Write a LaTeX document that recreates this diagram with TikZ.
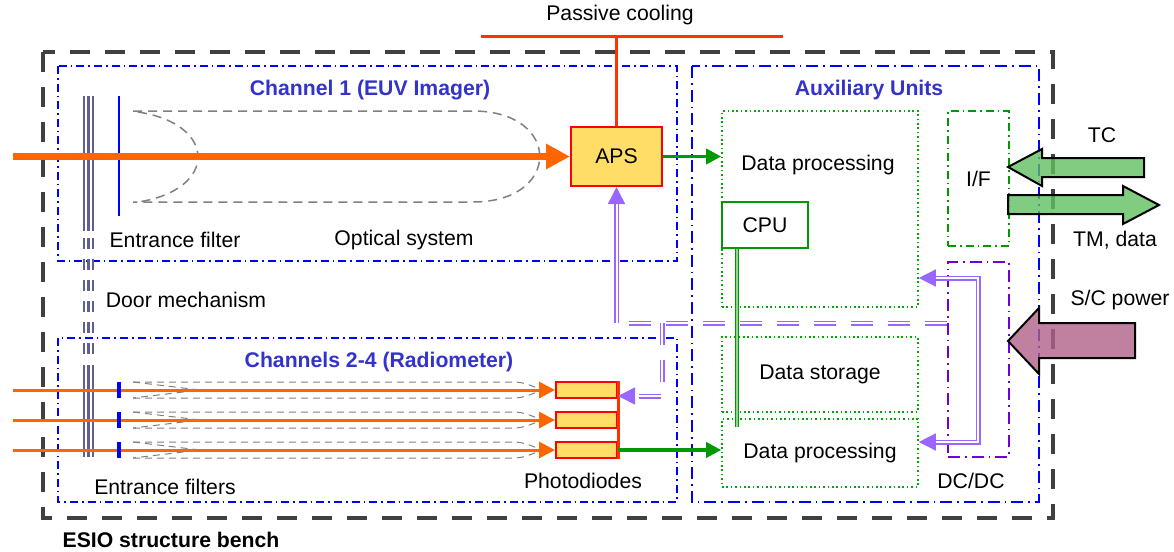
\documentclass[tikz,border=0pt]{standalone}
\usepackage{fontspec}
\setmainfont{Liberation Sans}
\usetikzlibrary{arrows.meta,calc}
\definecolor{beam}{RGB}{255,102,0}
\definecolor{cool}{RGB}{255,51,0}
\definecolor{apsfill}{RGB}{255,221,102}
\definecolor{ttl}{RGB}{51,51,204}
\definecolor{dgreen}{RGB}{0,153,0}
\definecolor{lgreen}{RGB}{0,170,0}
\definecolor{cpulight}{RGB}{150,210,150}
\definecolor{purp}{RGB}{153,102,255}
\definecolor{dcpurp}{RGB}{110,0,220}
\definecolor{doorc}{RGB}{95,95,145}
\definecolor{tmfill}{RGB}{96,191,96}
\definecolor{pwfill}{RGB}{176,96,136}
\definecolor{benchc}{RGB}{64,64,64}
\definecolor{optc}{RGB}{128,128,128}
\begin{document}
\begin{tikzpicture}[x=0.5pt,y=-0.5pt,
  font=\fontsize{10.6}{12.7}\selectfont,
  benchframe/.style={draw=benchc, line width=2pt, dash pattern=on 10pt off 7.5pt},
  chanframe/.style={draw=blue, line width=1pt, dash pattern=on 4pt off 2pt on 0.8pt off 2pt},
  auxframe/.style={draw=blue, line width=1pt, dash pattern=on 6pt off 2.5pt on 0.8pt off 2.5pt},
  ttltext/.style={text=ttl, font=\fontsize{10.6}{12.7}\selectfont\bfseries},
  dpbox/.style={draw=lgreen, line width=0.8pt, dash pattern=on 0.8pt off 1.4pt, inner sep=0pt, minimum width=98pt},
  yellowbox/.style={draw=red, fill=apsfill, line width=1pt, inner sep=0pt},
  optic/.style={draw=optc, line width=0.75pt, dash pattern=on 4.5pt off 3pt},
  opticthin/.style={draw=optc, line width=0.5pt, dash pattern=on 3.5pt off 2.5pt},
  pline/.style={draw=purp, double=white, double distance=1pt, line width=0.75pt},
  ptip/.style={-{Triangle[length=8.5pt,width=8.5pt]}},
  pdash/.style={dash pattern=on 11pt off 7.5pt},
  greenarrow/.style={draw=dgreen, line width=1.75pt, -{Triangle[length=7.5pt,width=7.5pt]}},
  doorline/.style={draw=doorc, line width=1.1pt},
  blockarrow/.style={draw=black, line width=1pt, line join=miter}
]
\useasboundingbox (0,0) rectangle (1174,552);

% outer bench
\draw[benchframe] (43,52) rectangle (1053,518);
\node[font=\fontsize{10.6}{12.7}\selectfont\bfseries] (esio) at (171,540) {ESIO structure bench};

% channel boxes
\draw[chanframe] (58,66) rectangle (677,261);
\draw[chanframe] (58,338) rectangle (677,502);
\draw[auxframe] (692,66) rectangle (1039,502);
\node[ttltext] (t1) at (370,90) {Channel 1 (EUV Imager)};
\node[ttltext] (t2) at (379,362) {Channels 2-4 (Radiometer)};
\node[ttltext] (t3) at (869,90) {Auxiliary Units};

% passive cooling
\node (pc) at (620,15) {Passive cooling};
\coordinate (cl) at (481,36);
\coordinate (cr) at (783,36);
\draw[cool, line width=1.5pt] (cl) -- (cr);

% door mechanism
\foreach \x in {84,88.5,93}{
  \draw[doorline] (\x,96) -- (\x,231);
  \draw[doorline, dash pattern=on 5.5pt off 5pt] (\x,238) -- (\x,360);
  \draw[doorline] (\x,365) -- (\x,457);
}
\node (doorlbl) at (186,300) {Door mechanism};

% channel 1 optics
\draw[optic] (133,111) -- (473,111) .. controls (562,111) and (562,202) .. (473,202) -- (133,202);
\draw[optic] (138,112) .. controls (218,124) and (218,190) .. (138,202);
\draw[blue, line width=1.2pt] (119,96) -- (119,216);
\node (eflbl) at (175,240) {Entrance filter};
\node (oslbl) at (404,240) {Optical system};

% APS
\node[yellowbox, minimum width=45.5pt, minimum height=29.5pt] (aps) at (616.5,156.5) {APS};
\draw[cool, line width=1.5pt] (aps.north) -- (aps.north |- cl);
\coordinate (src1) at (13,156.5);
\draw[beam, line width=3.5pt, -{Triangle[length=12pt,width=12pt]}] (src1) -- (aps.west);

% photodiodes
\node[yellowbox, minimum width=30.5pt, minimum height=8pt] (pd1) at (586.5,390) {};
\node[yellowbox, minimum width=30.5pt, minimum height=8pt] (pd2) at (586.5,420) {};
\node[yellowbox, minimum width=30.5pt, minimum height=8pt] (pd3) at (586.5,450) {};
\foreach \i/\y in {1/390,2/420,3/450}{
  \draw[opticthin] (133,\y-8) -- (513,\y-8) .. controls (530,\y-8) and (535,\y) .. (548,\y);
  \draw[opticthin] (133,\y+8) -- (513,\y+8) .. controls (530,\y+8) and (535,\y) .. (548,\y);
  \draw[opticthin] (133,\y-8) -- (200,\y) -- (133,\y+8);
  \coordinate (s\i) at (13,\y);
  \draw[beam, line width=1.5pt, -{Triangle[length=8pt,width=8pt]}] (s\i) -- (pd\i.west);
  \draw[blue, line width=1.6pt] (119,\y-8) -- (119,\y+8);
}
\draw[cool, line width=1.5pt] (pd1.north east) -- (pd3.south east);
\node (efslbl) at (165,487) {Entrance filters};
\node (pdlbl) at (583,481) {Photodiodes};

% auxiliary units
\node[dpbox, minimum height=98pt] (dp1) at (820,209) {};
\node (dp1lbl) at (818,165) {Data processing};
\node[draw=dgreen, line width=1pt, minimum width=43pt, minimum height=23pt, inner sep=0pt] (cpu) at (765,225) {CPU};
\node[dpbox, minimum height=37.5pt] (ds) at (820,374.5) {Data storage};
\node[dpbox, minimum height=34pt] (dp2) at (820,453) {Data processing};
\coordinate (cb) at (737,427);
\draw[draw=dgreen, double=cpulight, double distance=1pt, line width=0.6pt] (cpu.south -| cb) -- (cb);

\node[draw=dgreen, line width=1pt, dash pattern=on 4pt off 2pt on 0.8pt off 2pt, minimum width=30.5pt, minimum height=67.5pt, inner sep=0pt] (iface) at (978.5,178.5) {I/F};
\node[draw=dcpurp, line width=1pt, dash pattern=on 6pt off 2.5pt on 0.8pt off 2.5pt, minimum width=30.5pt, minimum height=97.5pt, inner sep=0pt] (dcdc) at (978.5,359.5) {};
\node (dclbl) at (971,481) {DC/DC};

% green data arrows
\draw[greenarrow] (aps.east) -- (aps.east -| dp1.west);
\draw[greenarrow] (pd3.east) -- (pd3.east -| dp2.west);

% purple power lines
\coordinate (dv1) at (978,278);
\coordinate (dv2) at (978,442);
\draw[pline, {Triangle[length=8.5pt,width=8.5pt]}-{Triangle[length=8.5pt,width=8.5pt]}] (dv1 -| dp1.east) -- (dv1) -- (dv2) -- (dv2 -| dp2.east);
\coordinate (hj) at (616.5,323);
\coordinate (hb) at (662,323);
\coordinate (hc) at (662,396);
\draw[pline, pdash] (dcdc.west |- hj) -- (hj);
\draw[pline, ptip] (hj) -- (aps.south);
\draw[pline, pdash, ptip] (hb) -- (hc) -- (hc -| pd1.east);

% external block arrows
\draw[blockarrow, fill=tmfill, fill opacity=0.8] (1008,167) -- (1042,149) -- (1042,158) -- (1144,158) -- (1144,177) -- (1042,177) -- (1042,186) -- cycle;
\draw[blockarrow, fill=tmfill, fill opacity=0.8] (1008,195) -- (1123,195) -- (1123,186) -- (1159,205) -- (1123,224) -- (1123,214) -- (1008,214) -- cycle;
\draw[blockarrow, fill=pwfill, fill opacity=0.8] (1008,341) -- (1039,308) -- (1039,323) -- (1135,323) -- (1135,358) -- (1039,358) -- (1039,374) -- cycle;
\node (tc) at (1102,135) {TC};
\node (tm) at (1115,240) {TM, data};
\node (scp) at (1120,300) {S/C power};
\end{tikzpicture}
\end{document}
